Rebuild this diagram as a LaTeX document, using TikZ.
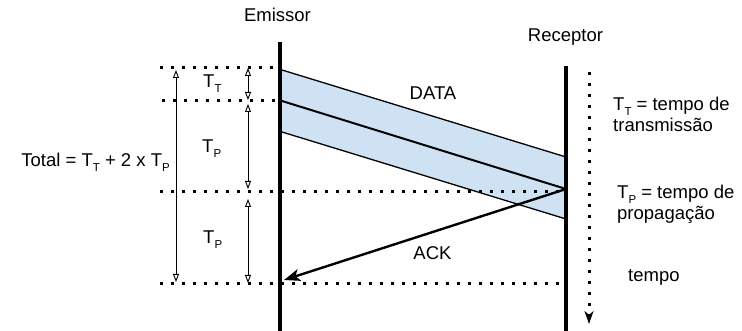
\documentclass[tikz,border=0pt]{standalone}
\usepackage{fontspec}
\setmainfont{Liberation Sans}
\usetikzlibrary{arrows.meta}
\definecolor{bandblue}{RGB}{207,226,243}
\newcommand{\lowsub}[1]{\raisebox{-5pt}[0pt][0pt]{\fontsize{11.5}{12}\selectfont #1}}

\begin{document}
\begin{tikzpicture}[
    x=1pt,y=-1pt,
    font=\fontsize{18.5}{21}\selectfont,
    txt/.style={inner sep=0pt,anchor=base west},
    title/.style={inner sep=0pt,anchor=base},
    timeline/.style={line width=4.6pt},
    edge/.style={line width=1.3pt},
    dotline/.style={line width=3pt,dash pattern=on 3pt off 8pt},
    dimarrow/.style={{Triangle[open,length=8pt,width=6pt]}-{Triangle[open,length=8pt,width=6pt]},line width=0.9pt},
    msg/.style={line width=2.4pt,-{Stealth[length=16pt,width=12pt,inset=4pt]}}
]
\useasboundingbox (0,0) rectangle (742,331);

% pontos do pacote DATA
\coordinate (dataA) at (282,70);
\coordinate (dataB) at (282,101);
\coordinate (dataC) at (282,132);
\coordinate (dataAr) at (566,157);
\coordinate (dataBr) at (566,189);
\coordinate (dataCr) at (566,219);
\coordinate (ackEnd) at (284,280);

\fill[bandblue] (dataA) -- (dataAr) -- (dataCr) -- (dataC) -- cycle;

% linhas pontilhadas
\coordinate (dotA) at (160,68);   \coordinate (dotAr) at (278,68);
\coordinate (dotB) at (162,101);  \coordinate (dotBr) at (278,101);
\coordinate (dotC) at (160,192);  \coordinate (dotCr) at (562,192);
\coordinate (dotD) at (160,284);  \coordinate (dotDr) at (562,284);
\draw[dotline] (dotA) -- (dotAr);
\draw[dotline] (dotB) -- (dotBr);
\draw[dotline] (dotC) -- (dotCr);
\draw[dotline] (dotD) -- (dotDr);

% emissor e receptor
\node[title] (emissor) at (277.5,22) {Emissor};
\node[title] (receptor) at (565.5,42) {Receptor};
\coordinate (emTop) at (280,42);
\coordinate (emBot) at (280,331);
\coordinate (reTop) at (566,66);
\coordinate (reBot) at (566,331);
\draw[timeline] (emTop) -- (emBot);
\draw[timeline] (reTop) -- (reBot);

\draw[edge] (dataA) -- (dataAr);
\draw[edge] (dataC) -- (dataCr);
\draw[line width=2pt] (dataB) -- (dataBr);
\draw[msg] (dataBr) -- (ackEnd);

\node[title] (data) at (433,100) {DATA};
\node[title] (ack) at (432.5,260) {ACK};

% cotas
\coordinate (totTop) at (176,70);  \coordinate (totBot) at (176,282);
\coordinate (ttTop) at (248,68);   \coordinate (ttBot) at (248,100);
\coordinate (tpaTop) at (248,104); \coordinate (tpaBot) at (248,189);
\coordinate (tpbTop) at (248,199); \coordinate (tpbBot) at (248,283);
\draw[dimarrow] (totTop) -- (totBot);
\draw[dimarrow] (ttTop) -- (ttBot);
\draw[dimarrow] (tpaTop) -- (tpaBot);
\draw[dimarrow] (tpbTop) -- (tpbBot);

\node[txt] (tt) at (203,88) {T\lowsub{T}};
\node[txt] (tpa) at (202,153) {T\lowsub{P}};
\node[txt] (tpb) at (203,244) {T\lowsub{P}};
\node[inner sep=0pt,anchor=base east] (total) at (170,167) {Total = T\lowsub{T} + 2 x T\lowsub{P}};

% eixo do tempo
\coordinate (timeTop) at (589,72);
\coordinate (timeBot) at (589,324);
\draw[dotline,-{Stealth[length=13pt,width=9pt,inset=4pt]}] (timeTop) -- (timeBot);

\node[txt] (legTT) at (613,111) {T\lowsub{T} = tempo de};
\node[txt] (legTTb) at (613,132) {transmissão};
\node[txt] (legTP) at (617,199) {T\lowsub{P} = tempo de};
\node[txt] (legTPb) at (617,220) {propagação};
\node[txt] (tempo) at (628,281) {tempo};
\end{tikzpicture}
\end{document}
